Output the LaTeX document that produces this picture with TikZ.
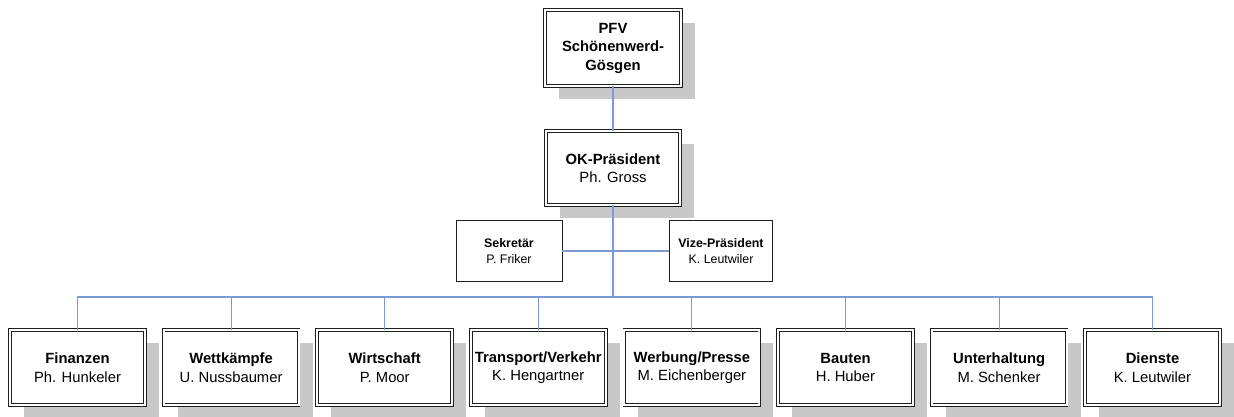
\documentclass[tikz,border=0pt]{standalone}
\usepackage{fontspec}
\setmainfont{Liberation Sans}
\usetikzlibrary{shadows}
\definecolor{linkblue}{RGB}{122,155,214}
\definecolor{shadowgray}{RGB}{200,200,200}
\definecolor{boxline}{RGB}{30,30,30}
\tikzset{
  unitbox/.style={draw=boxline, double=white, double distance=2pt, line width=0.8pt,
    fill=white, align=center, inner sep=0pt,
    drop shadow={shadow xshift=14pt, shadow yshift=-13pt, fill=shadowgray, opacity=1},
    font=\fontsize{14.8}{18.5}\selectfont},
  smallbox/.style={draw=boxline, line width=0.9pt, fill=white, align=center, inner sep=0pt,
    minimum width=106pt, minimum height=61pt, font=\fontsize{12.4}{16.5}\selectfont},
  bottombox/.style={unitbox, minimum width=135pt, minimum height=75pt},
  link/.style={draw=linkblue, line width=1.1pt}
}
\begin{document}
\begin{tikzpicture}[x=1pt,y=-1pt]
\useasboundingbox (0,0) rectangle (1234,417);
\fill[white] (0,0) rectangle (1234,417);
\coordinate (bus) at (613,297);
\node[unitbox, minimum width=136pt, minimum height=76pt] (top) at (613,48) {\textbf{PFV}\\\textbf{Schönenwerd-}\\\textbf{Gösgen}};
\node[unitbox, minimum width=134pt, minimum height=74pt] (ok) at (613,168) {\textbf{OK-Präsident}\\Ph. Gross};
\node[smallbox] (sek) at (509,251) {\textbf{Sekretär}\\P. Friker};
\node[smallbox, minimum width=103pt] (vize) at (721,251) {\textbf{Vize-Präsident}\\K. Leutwiler};
\node[bottombox] (b1) at (77.5,367.5) {\textbf{Finanzen}\\Ph. Hunkeler};
\node[bottombox] (b2) at (231.1,367.5) {\textbf{Wettkämpfe}\\U. Nussbaumer};
\node[bottombox] (b3) at (384.7,367.5) {\textbf{Wirtschaft}\\P. Moor};
\node[bottombox] (b4) at (538.3,367.5) {\textbf{Transport/Verkehr}\\K. Hengartner};
\node[bottombox] (b5) at (691.9,367.5) {\textbf{Werbung/Presse}\\M. Eichenberger};
\node[bottombox] (b6) at (845.5,367.5) {\textbf{Bauten}\\H. Huber};
\node[bottombox] (b7) at (999.1,367.5) {\textbf{Unterhaltung}\\M. Schenker};
\node[bottombox] (b8) at (1152.5,367.5) {\textbf{Dienste}\\K. Leutwiler};
\draw[link] (top.south) -- (ok.north);
\draw[link] (ok.south) -- (bus);
\draw[link] (sek.east) -- (vize.west);
\draw[link] (b1.north) -- (b1.north |- bus) -- (b8.north |- bus) -- (b8.north);
\foreach \i in {2,...,7} { \draw[link] (b\i.north) -- (b\i.north |- bus); }
\end{tikzpicture}
\end{document}
